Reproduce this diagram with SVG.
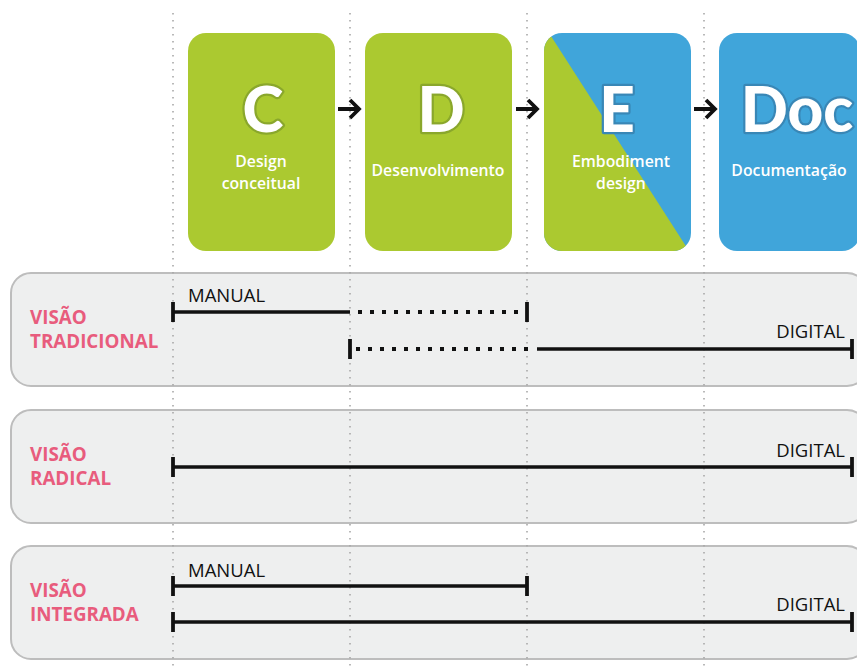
<svg xmlns="http://www.w3.org/2000/svg" width="857" height="666" viewBox="0 0 857 666">
  <style>
    .guide { stroke: #a8a8a8; stroke-width: 1.6; stroke-dasharray: 1.6 5.4; fill: none; }
    .panel { fill: #eeefef; stroke: #bdbdbd; stroke-width: 2; }
    .green { fill: #abc930; }
    .blue { fill: #40a5da; }
    .big { font-family: Lato, "Open Sans", sans-serif; font-weight: 900; font-size: 62px; fill: #ffffff; text-anchor: middle; paint-order: stroke; stroke-width: 4.5; stroke-linejoin: round; }
    .big-g { stroke: #8aa72c; }
    .big-b { stroke: #3987b6; }
    .sub { font-family: "Open Sans", "Liberation Sans", sans-serif; font-size: 15.8px; font-weight: 600; fill: #ffffff; text-anchor: middle; }
    .view { font-family: "Open Sans", "Liberation Sans", sans-serif; font-weight: 700; font-size: 18.8px; fill: #e85c7d; }
    .tag { font-family: "Open Sans", "Liberation Sans", sans-serif; font-size: 18.5px; fill: #111111; }
    .bar { stroke: #111111; stroke-width: 3.4; fill: none; }
    .cap { stroke: #111111; stroke-width: 3.8; fill: none; }
    .dots { stroke: #111111; stroke-width: 4; stroke-dasharray: 4 8; fill: none; }
    .arrow { stroke: #111111; stroke-width: 3.8; fill: none; stroke-linecap: butt; stroke-linejoin: miter; }
  </style>

  <!-- view panels -->
  <g id="panel-tradicional">
    <rect class="panel" x="11" y="273" width="856" height="113" rx="20"/>
    <text class="view" x="30" y="324">VISÃO</text>
    <text class="view" x="30" y="348">TRADICIONAL</text>
  </g>
  <g id="panel-radical">
    <rect class="panel" x="11" y="410" width="856" height="113" rx="20"/>
    <text class="view" x="30" y="461">VISÃO</text>
    <text class="view" x="30" y="485">RADICAL</text>
  </g>
  <g id="panel-integrada">
    <rect class="panel" x="11" y="546" width="856" height="113" rx="20"/>
    <text class="view" x="30" y="597">VISÃO</text>
    <text class="view" x="30" y="621">INTEGRADA</text>
  </g>

  <!-- phase guide lines -->
  <g id="guides">
    <line class="guide" x1="173" y1="13" x2="173" y2="666"/>
    <line class="guide" x1="350" y1="13" x2="350" y2="666"/>
    <line class="guide" x1="527" y1="13" x2="527" y2="666"/>
    <line class="guide" x1="704" y1="13" x2="704" y2="666"/>
  </g>

  <!-- phase boxes -->
  <g id="phase-c">
    <rect class="green" x="188" y="33" width="147" height="218" rx="18"/>
    <text class="big big-g" x="263" y="132">C</text>
    <text class="sub" x="261" y="167">Design</text>
    <text class="sub" x="261" y="189">conceitual</text>
  </g>
  <g id="phase-d">
    <rect class="green" x="365" y="33" width="147" height="218" rx="18"/>
    <text class="big big-g" x="441" y="132">D</text>
    <text class="sub" x="438" y="176">Desenvolvimento</text>
  </g>
  <g id="phase-e">
    <clipPath id="clip-e">
      <rect x="544" y="33" width="147" height="218" rx="18"/>
    </clipPath>
    <g clip-path="url(#clip-e)">
      <rect class="blue" x="544" y="33" width="147" height="218"/>
      <polygon class="green" points="544,33 549,33 689,251 544,251"/>
    </g>
    <text class="big big-b" x="617" y="132">E</text>
    <text class="sub" x="621" y="167">Embodiment</text>
    <text class="sub" x="621" y="189">design</text>
  </g>
  <g id="phase-doc">
    <rect class="blue" x="719" y="33" width="141" height="218" rx="18"/>
    <text class="big big-b" x="797" y="132">Doc</text>
    <text class="sub" x="789" y="176">Documentação</text>
  </g>

  <!-- flow arrows between phases -->
  <g id="connectors">
    <path class="arrow" d="M338 109 H359 M350 100 L359 109 L350 118"/>
    <path class="arrow" d="M516 109 H537 M528 100 L537 109 L528 118"/>
    <path class="arrow" d="M694 109 H715 M706 100 L715 109 L706 118"/>

    <!-- tradicional: manual -->
    <line class="bar" x1="173" y1="312" x2="350" y2="312"/>
    <line class="dots" x1="358" y1="312" x2="527" y2="312"/>
    <line class="cap" x1="173" y1="302" x2="173" y2="322"/>
    <line class="cap" x1="527" y1="302" x2="527" y2="322"/>
    <!-- tradicional: digital -->
    <line class="cap" x1="350" y1="339" x2="350" y2="359"/>
    <line class="dots" x1="356" y1="349" x2="536" y2="349"/>
    <line class="bar" x1="537" y1="349" x2="852" y2="349"/>
    <line class="cap" x1="852" y1="339" x2="852" y2="359"/>

    <!-- radical: digital -->
    <line class="bar" x1="173" y1="467" x2="852" y2="467"/>
    <line class="cap" x1="173" y1="457" x2="173" y2="477"/>
    <line class="cap" x1="852" y1="457" x2="852" y2="477"/>

    <!-- integrada: manual + digital -->
    <line class="bar" x1="173" y1="586" x2="527" y2="586"/>
    <line class="cap" x1="173" y1="576" x2="173" y2="596"/>
    <line class="cap" x1="527" y1="576" x2="527" y2="596"/>
    <line class="bar" x1="173" y1="622" x2="852" y2="622"/>
    <line class="cap" x1="173" y1="612" x2="173" y2="632"/>
    <line class="cap" x1="852" y1="612" x2="852" y2="632"/>
  </g>

  <!-- bar labels -->
  <g id="bar-labels">
    <text class="tag" x="188" y="302">MANUAL</text>
    <text class="tag" x="845" y="338" text-anchor="end">DIGITAL</text>
    <text class="tag" x="845" y="457" text-anchor="end">DIGITAL</text>
    <text class="tag" x="188" y="577">MANUAL</text>
    <text class="tag" x="845" y="611" text-anchor="end">DIGITAL</text>
  </g>
</svg>
